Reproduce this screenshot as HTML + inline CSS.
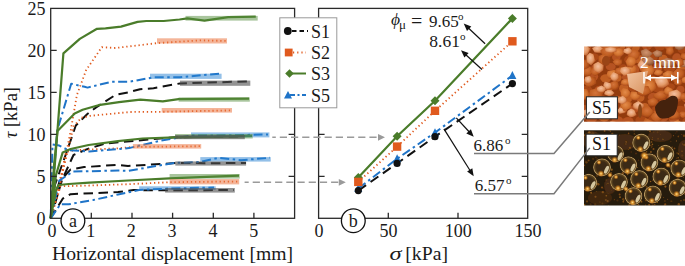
<!DOCTYPE html>
<html><head><meta charset="utf-8"><style>
html,body{margin:0;padding:0;background:#fff;width:685px;height:266px;overflow:hidden}
svg{display:block}
</style></head><body>
<svg width="685" height="266" viewBox="0 0 685 266">
<rect width="685" height="266" fill="#fff"/>
<polyline points="50.7,218.3 54.8,185.2 65.6,155.0 75.8,125.5 87.1,114.2 96.1,107.4 115.3,95.0 128.0,92.4 140.0,89.3 153.5,88.2 180.0,83.4 250.0,81.3" fill="none" stroke="#111" stroke-width="2.0" stroke-linejoin="round" stroke-dasharray="9.5 5.5"/>
<polyline points="50.7,218.3 62.0,180.0 73.5,155.0 87.1,149.2 105.2,143.5 130.0,141.3 151.5,139.1 175.2,137.2 210.0,137.0 244.0,136.5" fill="none" stroke="#111" stroke-width="2.0" stroke-linejoin="round" stroke-dasharray="9.5 5.5"/>
<polyline points="50.7,218.3 59.3,181.8 70.6,169.4 84.1,167.1 118.0,164.8 128.0,166.0 176.4,163.0 210.0,163.2 246.0,163.0" fill="none" stroke="#111" stroke-width="2.0" stroke-linejoin="round" stroke-dasharray="9.5 5.5"/>
<polyline points="50.7,218.3 62.7,198.7 70.6,194.2 118.0,192.0 133.5,190.1 170.0,190.3 234.0,190.0" fill="none" stroke="#111" stroke-width="2.0" stroke-linejoin="round" stroke-dasharray="9.5 5.5"/>
<polyline points="50.7,218.3 60.0,185.0 70.8,130.0 76.9,95.0 86.2,70.0 101.8,47.2 115.3,48.0 157.4,43.1 200.0,40.4 226.0,40.9" fill="none" stroke="#e05a1e" stroke-width="1.8" stroke-linejoin="round" stroke-dasharray="1.3 2.8" stroke-linecap="butt"/>
<polyline points="50.7,218.3 62.0,175.0 73.5,126.6 81.5,117.6 90.5,115.8 130.0,112.0 161.7,111.8 200.0,111.0 231.0,110.4" fill="none" stroke="#e05a1e" stroke-width="1.8" stroke-linejoin="round" stroke-dasharray="1.3 2.8" stroke-linecap="butt"/>
<polyline points="50.7,218.3 60.0,180.0 66.0,152.0 75.0,150.2 118.0,148.3 133.0,147.0 170.0,146.5 200.0,146.2" fill="none" stroke="#e05a1e" stroke-width="1.8" stroke-linejoin="round" stroke-dasharray="1.3 2.8" stroke-linecap="butt"/>
<polyline points="50.7,218.3 58.0,195.0 60.4,186.3 90.0,185.5 128.0,184.2 169.6,182.2 200.0,181.8 238.0,181.6" fill="none" stroke="#e05a1e" stroke-width="1.8" stroke-linejoin="round" stroke-dasharray="1.3 2.8" stroke-linecap="butt"/>
<polyline points="50.7,218.3 57.2,130.5 71.2,83.7 84.6,86.8 87.5,87.6 111.2,81.8 128.0,81.8 136.4,80.6 153.7,77.2 180.0,77.2 219.0,73.7" fill="none" stroke="#1f74c8" stroke-width="2.0" stroke-linejoin="round" stroke-dasharray="9 3.5 2.5 3.5"/>
<polyline points="50.7,218.3 52.5,144.5 59.3,145.6 68.3,150.2 89.4,151.5 118.0,149.0 129.0,148.1 160.6,140.7 191.0,135.6 230.0,135.3 268.0,134.4" fill="none" stroke="#1f74c8" stroke-width="2.0" stroke-linejoin="round" stroke-dasharray="9 3.5 2.5 3.5"/>
<polyline points="50.7,218.3 59.3,180.6 72.8,171.6 118.0,170.5 128.0,170.8 174.1,163.0 200.0,162.0 219.0,157.8 241.0,160.2 270.0,157.8" fill="none" stroke="#1f74c8" stroke-width="2.0" stroke-linejoin="round" stroke-dasharray="9 3.5 2.5 3.5"/>
<polyline points="50.7,218.3 60.4,204.3 68.7,204.3 93.2,200.0 118.0,194.5 139.0,190.0 170.0,188.5 214.0,187.5" fill="none" stroke="#1f74c8" stroke-width="2.0" stroke-linejoin="round" stroke-dasharray="9 3.5 2.5 3.5"/>
<polyline points="50.7,218.3 63.4,53.3 79.8,38.9 97.0,28.8 105.5,28.4 121.0,26.6 137.6,21.9 146.3,21.0 163.7,21.0 179.5,19.5 187.4,18.3 204.5,20.6 228.2,17.2 255.8,16.7" fill="none" stroke="#4a7c2a" stroke-width="2.2" stroke-linejoin="round" />
<polyline points="50.7,218.3 54.0,165.0 57.5,131.0 74.7,113.5 82.6,109.7 98.4,105.2 119.0,102.1 140.3,99.7 162.8,101.3 178.6,99.2 210.0,98.9 249.0,98.6" fill="none" stroke="#4a7c2a" stroke-width="2.2" stroke-linejoin="round" />
<polyline points="50.7,218.3 56.0,175.0 62.7,152.4 70.6,149.0 88.6,145.0 118.0,141.1 142.5,138.5 175.2,137.3 210.0,136.8 252.0,135.8" fill="none" stroke="#4a7c2a" stroke-width="2.2" stroke-linejoin="round" />
<polyline points="50.7,218.3 56.0,190.0 58.5,185.0 68.7,184.0 89.3,182.6 128.0,180.5 169.6,178.4 200.0,177.2 239.0,175.6" fill="none" stroke="#4a7c2a" stroke-width="2.2" stroke-linejoin="round" />
<rect x="185.5" y="15.9" width="72.2" height="4.7" fill="rgba(84,140,60,0.5)"/>
<rect x="157" y="38.3" width="70.0" height="5.2" fill="rgba(235,120,70,0.55)"/>
<rect x="150" y="73.7" width="71.6" height="5.2" fill="rgba(40,130,210,0.5)"/>
<rect x="180" y="80.6" width="70.3" height="5.2" fill="rgba(80,80,80,0.62)"/>
<rect x="178.6" y="97.4" width="71.2" height="4.3" fill="rgba(84,140,60,0.5)"/>
<rect x="161.7" y="108" width="70.3" height="4.6" fill="rgba(235,120,70,0.55)"/>
<rect x="191" y="132.4" width="78.4" height="5.0" fill="rgba(40,130,210,0.5)"/>
<rect x="175" y="134" width="77.7" height="4.5" fill="rgba(84,140,60,0.5)"/>
<rect x="175.2" y="135" width="69.6" height="4.2" fill="rgba(80,80,80,0.62)"/>
<rect x="132.9" y="144.1" width="68.3" height="4.5" fill="rgba(235,120,70,0.55)"/>
<rect x="200.3" y="157.1" width="70.4" height="4.5" fill="rgba(40,130,210,0.5)"/>
<rect x="175.3" y="161.4" width="70.8" height="4.2" fill="rgba(80,80,80,0.62)"/>
<rect x="169.6" y="174" width="70.1" height="4.6" fill="rgba(84,140,60,0.5)"/>
<rect x="169.6" y="179.1" width="69.6" height="5.3" fill="rgba(235,120,70,0.55)"/>
<rect x="139.2" y="186.3" width="76.5" height="3.7" fill="rgba(40,130,210,0.5)"/>
<rect x="165.1" y="188" width="69.7" height="4.6" fill="rgba(80,80,80,0.62)"/>
<rect x="50.7" y="8.4" width="243.9" height="209.9" fill="none" stroke="#2a2a2a" stroke-width="1.3"/>
<rect x="318.6" y="8.4" width="209.1" height="209.9" fill="none" stroke="#2a2a2a" stroke-width="1.3"/>
<path d="M50.7,176.3h6 M294.6,176.3h-6 M318.6,176.3h6 M527.7,176.3h-6 M50.7,134.3h6 M294.6,134.3h-6 M318.6,134.3h6 M527.7,134.3h-6 M50.7,92.3h6 M294.6,92.3h-6 M318.6,92.3h6 M527.7,92.3h-6 M50.7,50.3h6 M294.6,50.3h-6 M318.6,50.3h6 M527.7,50.3h-6 M91.3,218.3v-5.5 M132.0,218.3v-5.5 M172.6,218.3v-5.5 M213.3,218.3v-5.5 M253.9,218.3v-5.5 M388.3,218.3v-5.5 M458.0,218.3v-5.5" stroke="#2a2a2a" stroke-width="1.3" fill="none"/>
<text x="45.6" y="224.9" text-anchor="end" font-size="18" font-family="Liberation Serif" fill="#1a1a1a">0</text>
<text x="45.6" y="182.9" text-anchor="end" font-size="18" font-family="Liberation Serif" fill="#1a1a1a">5</text>
<text x="45.6" y="140.9" text-anchor="end" font-size="18" font-family="Liberation Serif" fill="#1a1a1a">10</text>
<text x="45.6" y="98.9" text-anchor="end" font-size="18" font-family="Liberation Serif" fill="#1a1a1a">15</text>
<text x="45.6" y="56.9" text-anchor="end" font-size="18" font-family="Liberation Serif" fill="#1a1a1a">20</text>
<text x="45.6" y="14.9" text-anchor="end" font-size="18" font-family="Liberation Serif" fill="#1a1a1a">25</text>
<text x="52.1" y="236.8" text-anchor="middle" font-size="18" font-family="Liberation Serif" fill="#1a1a1a">0</text>
<text x="90.7" y="236.8" text-anchor="middle" font-size="18" font-family="Liberation Serif" fill="#1a1a1a">1</text>
<text x="131.2" y="236.8" text-anchor="middle" font-size="18" font-family="Liberation Serif" fill="#1a1a1a">2</text>
<text x="172.1" y="236.8" text-anchor="middle" font-size="18" font-family="Liberation Serif" fill="#1a1a1a">3</text>
<text x="212.9" y="236.8" text-anchor="middle" font-size="18" font-family="Liberation Serif" fill="#1a1a1a">4</text>
<text x="253.7" y="236.8" text-anchor="middle" font-size="18" font-family="Liberation Serif" fill="#1a1a1a">5</text>
<text x="318.9" y="236.9" text-anchor="middle" font-size="18" font-family="Liberation Serif" fill="#1a1a1a">0</text>
<text x="388.6" y="236.9" text-anchor="middle" font-size="18" font-family="Liberation Serif" fill="#1a1a1a">50</text>
<text x="458.3" y="236.9" text-anchor="middle" font-size="18" font-family="Liberation Serif" fill="#1a1a1a">100</text>
<text x="528.0" y="236.9" text-anchor="middle" font-size="18" font-family="Liberation Serif" fill="#1a1a1a">150</text>
<text x="52" y="260" font-size="19.65" font-family="Liberation Serif" fill="#1a1a1a">Horizontal displacement [mm]</text>
<text transform="translate(389.6,260) scale(1.25,1)" font-size="19.5" font-style="italic" font-family="Liberation Serif" fill="#1a1a1a">σ</text>
<text x="405.3" y="260" font-size="19.7" font-family="Liberation Serif" fill="#1a1a1a">[kPa]</text>
<text transform="translate(16.6,138.3) rotate(-90)" font-size="18.5" font-family="Liberation Serif" fill="#1a1a1a"><tspan font-style="italic">τ</tspan> [kPa]</text>
<circle cx="72.9" cy="220.7" r="11.9" fill="#fff" stroke="#111" stroke-width="1.3"/>
<text x="72.9" y="227" text-anchor="middle" font-size="18" font-family="Liberation Serif" fill="#1a1a1a">a</text>
<circle cx="353.3" cy="220.7" r="11.9" fill="#fff" stroke="#111" stroke-width="1.3"/>
<text x="353.3" y="227.4" text-anchor="middle" font-size="18" font-family="Liberation Serif" fill="#1a1a1a">b</text>
<polyline points="358.3,190.6 397.1,163.4 435.0,136.7 512.4,83.6" fill="none" stroke="#111" stroke-width="2.0" stroke-dasharray="9.5 5.5"/>
<polyline points="358.3,181.9 397.1,146.6 435.0,110.8 512.4,41.3" fill="none" stroke="#e05a1e" stroke-width="1.8" stroke-dasharray="1.3 2.8" stroke-linecap="butt"/>
<polyline points="358.3,177.4 397.1,136.3 435.0,100.7 512.4,18.4" fill="none" stroke="#4a7c2a" stroke-width="2.2" />
<polyline points="358.3,188.5 397.1,158.7 435.0,132.6 512.4,75.5" fill="none" stroke="#1f74c8" stroke-width="2.0" stroke-dasharray="9 3.5 2.5 3.5"/>
<path d="M358.3,184.1l4,8l-8,0z" fill="#1f74c8"/>
<path d="M397.1,154.3l4,8l-8,0z" fill="#1f74c8"/>
<path d="M435.0,128.2l4,8l-8,0z" fill="#1f74c8"/>
<path d="M512.4,71.1l4,8l-8,0z" fill="#1f74c8"/>
<path d="M358.3,172.9l4.5,4.5l-4.5,4.5l-4.5,-4.5z" fill="#4a7c2a"/>
<path d="M397.1,131.8l4.5,4.5l-4.5,4.5l-4.5,-4.5z" fill="#4a7c2a"/>
<path d="M435.0,96.2l4.5,4.5l-4.5,4.5l-4.5,-4.5z" fill="#4a7c2a"/>
<path d="M512.4,13.9l4.5,4.5l-4.5,4.5l-4.5,-4.5z" fill="#4a7c2a"/>
<rect x="354.1" y="177.7" width="8.4" height="8.4" fill="#e05a1e"/>
<rect x="392.9" y="142.4" width="8.4" height="8.4" fill="#e05a1e"/>
<rect x="430.8" y="106.6" width="8.4" height="8.4" fill="#e05a1e"/>
<rect x="508.2" y="37.1" width="8.4" height="8.4" fill="#e05a1e"/>
<circle cx="358.3" cy="190.6" r="3.6" fill="#111"/>
<circle cx="397.1" cy="163.4" r="3.6" fill="#111"/>
<circle cx="435.0" cy="136.7" r="3.6" fill="#111"/>
<circle cx="512.4" cy="83.6" r="3.6" fill="#111"/>
<path d="M376.6,137.3H272.3 M338.3,182.3H244.6" stroke="#9a9a9a" stroke-width="1.4" stroke-dasharray="7.2 4" fill="none"/>
<path d="M385,137.3l-7,-3.4v6.8z M345.8,182.3l-7,-3.4v6.8z" fill="#9a9a9a"/>
<path d="M485.1,43.8L468.4,28.0" stroke="#111" stroke-width="1.2"/><path d="M463.7,23.5L471.3,26.4L467.0,30.9z" fill="#111"/>
<path d="M482.0,69.5L465.8,54.7" stroke="#111" stroke-width="1.2"/><path d="M461.0,50.3L468.6,53.1L464.4,57.6z" fill="#111"/>
<path d="M456.3,117.9L469.3,132.0" stroke="#111" stroke-width="1.2"/><path d="M473.7,136.8L466.3,133.4L470.9,129.2z" fill="#111"/>
<path d="M443.9,128.9L470.2,170.8" stroke="#111" stroke-width="1.2"/><path d="M473.7,176.3L467.1,171.6L472.3,168.3z" fill="#111"/>
<text x="391" y="25" font-size="17.5" font-style="italic" font-family="Liberation Serif" fill="#1a1a1a">ϕ</text>
<text x="399" y="28.8" font-size="13" font-family="Liberation Serif" fill="#1a1a1a">μ</text>
<text x="411" y="28.3" font-size="20" font-family="Liberation Serif" fill="#1a1a1a">=</text>
<text x="429" y="27.4" font-size="17" font-family="Liberation Serif" fill="#1a1a1a">9.65</text><text x="458" y="20" font-size="11" font-family="Liberation Serif" fill="#1a1a1a">o</text>
<text x="429.3" y="46.6" font-size="17.5" font-family="Liberation Serif" fill="#1a1a1a">8.61</text><text x="460" y="39.5" font-size="11" font-family="Liberation Serif" fill="#1a1a1a">o</text>
<text x="473.5" y="151" font-size="17" font-family="Liberation Serif" fill="#1a1a1a">6.86</text><text x="505" y="144" font-size="11" font-family="Liberation Serif" fill="#1a1a1a">o</text>
<text x="474.7" y="190.5" font-size="17" font-family="Liberation Serif" fill="#1a1a1a">6.57</text><text x="506" y="183.5" font-size="11" font-family="Liberation Serif" fill="#1a1a1a">o</text>
<rect x="279.8" y="17.8" width="57" height="90" fill="#fff" stroke="#999" stroke-width="1"/>
<path d="M292,31H308" stroke="#111" stroke-width="2" stroke-dasharray="4.5 3"/>
<circle cx="287.8" cy="31" r="3.9" fill="#111"/>
<path d="M293,52.5H306" stroke="#e05a1e" stroke-width="1.8" stroke-dasharray="1.2 3"/>
<rect x="284.8" y="48.6" width="7.8" height="7.8" fill="#e05a1e"/>
<path d="M289,73.5H306" stroke="#4a7c2a" stroke-width="2"/>
<path d="M289.5,69.2l4.3,4.3l-4.3,4.3l-4.3,-4.3z" fill="#4a7c2a"/>
<path d="M290,95H306" stroke="#1f74c8" stroke-width="2" stroke-dasharray="5 2.5 2 2.5"/>
<path d="M288,91l4,7.5h-8z" fill="#1f74c8"/>
<text x="311" y="37.5" font-size="18" font-family="Liberation Serif" fill="#1a1a1a">S1</text>
<text x="311" y="59.0" font-size="18" font-family="Liberation Serif" fill="#1a1a1a">S2</text>
<text x="311" y="80.0" font-size="18" font-family="Liberation Serif" fill="#1a1a1a">S3</text>
<text x="311" y="101.5" font-size="18" font-family="Liberation Serif" fill="#1a1a1a">S5</text>
<defs><clipPath id="cs"><rect x="584" y="46.5" width="101" height="75.3"/></clipPath><clipPath id="cb"><rect x="584" y="130.3" width="101" height="75.2"/></clipPath><radialGradient id="bead" cx="0.5" cy="0.5" r="0.5"><stop offset="0" stop-color="#3a2a14"/><stop offset="0.6" stop-color="#3c2a12"/><stop offset="0.82" stop-color="#5c4420"/><stop offset="0.93" stop-color="#b89860"/><stop offset="1" stop-color="#5a4420"/></radialGradient><radialGradient id="glow" cx="0.5" cy="0.5" r="0.5"><stop offset="0" stop-color="#ffe090" stop-opacity="1"/><stop offset="0.4" stop-color="#f0a030" stop-opacity="0.85"/><stop offset="1" stop-color="#a05010" stop-opacity="0"/></radialGradient><filter id="bl" x="-10%" y="-10%" width="120%" height="120%"><feGaussianBlur stdDeviation="0.7"/></filter><filter id="bl2" x="-10%" y="-10%" width="120%" height="120%"><feGaussianBlur stdDeviation="0.5"/></filter></defs>
<defs><radialGradient id="g1" cx="0.45" cy="0.4" r="0.6"><stop offset="0" stop-color="#f4c0a0"/><stop offset="0.6" stop-color="#e49a68"/><stop offset="1" stop-color="#bc5e2c"/></radialGradient><radialGradient id="g2" cx="0.45" cy="0.4" r="0.6"><stop offset="0" stop-color="#e48c4a"/><stop offset="0.6" stop-color="#d0702e"/><stop offset="1" stop-color="#ac4c1a"/></radialGradient><radialGradient id="g3" cx="0.45" cy="0.4" r="0.6"><stop offset="0" stop-color="#d4743a"/><stop offset="0.6" stop-color="#c05e22"/><stop offset="1" stop-color="#9c4012"/></radialGradient><radialGradient id="g4" cx="0.45" cy="0.4" r="0.6"><stop offset="0" stop-color="#d09470"/><stop offset="0.6" stop-color="#b47650"/><stop offset="1" stop-color="#8e5430"/></radialGradient></defs>
<g clip-path="url(#cs)"><g filter="url(#bl)"><rect x="581" y="43.5" width="107" height="81.3" fill="#923a10"/>
<ellipse cx="585.4" cy="48.3" rx="5.8" ry="4.8" fill="#aa4816"/>
<ellipse cx="599.8" cy="45.7" rx="5.0" ry="3.5" fill="#c05e24"/>
<ellipse cx="609.5" cy="47.9" rx="5.2" ry="3.6" fill="#c05e24"/>
<ellipse cx="620.5" cy="46.6" rx="4.8" ry="4.0" fill="#c05e24"/>
<ellipse cx="634.8" cy="47.4" rx="4.9" ry="4.3" fill="#c05e24"/>
<ellipse cx="647.0" cy="45.7" rx="5.2" ry="4.2" fill="#b65220"/>
<ellipse cx="659.8" cy="46.0" rx="5.6" ry="4.5" fill="#aa4816"/>
<ellipse cx="669.0" cy="45.6" rx="4.6" ry="4.5" fill="#b65220"/>
<ellipse cx="682.1" cy="48.6" rx="4.7" ry="4.9" fill="#aa4816"/>
<ellipse cx="593.6" cy="57.0" rx="5.3" ry="3.8" fill="#aa4816"/>
<ellipse cx="605.2" cy="58.8" rx="4.4" ry="3.8" fill="#b65220"/>
<ellipse cx="616.3" cy="57.0" rx="4.3" ry="4.2" fill="#b65220"/>
<ellipse cx="628.8" cy="59.5" rx="4.6" ry="3.8" fill="#aa4816"/>
<ellipse cx="639.9" cy="59.4" rx="5.7" ry="4.1" fill="#c05e24"/>
<ellipse cx="652.0" cy="57.0" rx="5.7" ry="5.0" fill="#aa4816"/>
<ellipse cx="663.3" cy="59.1" rx="4.6" ry="4.4" fill="#c05e24"/>
<ellipse cx="676.8" cy="58.0" rx="4.6" ry="4.7" fill="#b65220"/>
<ellipse cx="688.6" cy="57.4" rx="4.4" ry="4.7" fill="#aa4816"/>
<ellipse cx="584.9" cy="66.5" rx="4.1" ry="4.4" fill="#aa4816"/>
<ellipse cx="596.4" cy="68.1" rx="5.3" ry="4.1" fill="#b65220"/>
<ellipse cx="610.7" cy="66.7" rx="5.0" ry="3.8" fill="#b65220"/>
<ellipse cx="623.0" cy="68.1" rx="4.1" ry="3.8" fill="#aa4816"/>
<ellipse cx="634.2" cy="69.7" rx="5.0" ry="5.0" fill="#b65220"/>
<ellipse cx="645.6" cy="69.1" rx="5.8" ry="3.6" fill="#c05e24"/>
<ellipse cx="657.6" cy="67.7" rx="4.4" ry="4.8" fill="#b65220"/>
<ellipse cx="669.5" cy="68.2" rx="5.8" ry="4.7" fill="#aa4816"/>
<ellipse cx="681.9" cy="68.5" rx="4.4" ry="4.6" fill="#c05e24"/>
<ellipse cx="593.7" cy="76.6" rx="4.5" ry="4.1" fill="#b65220"/>
<ellipse cx="605.9" cy="78.3" rx="5.6" ry="4.0" fill="#c05e24"/>
<ellipse cx="617.4" cy="77.5" rx="4.2" ry="4.2" fill="#c05e24"/>
<ellipse cx="627.7" cy="77.2" rx="5.8" ry="3.8" fill="#b65220"/>
<ellipse cx="639.7" cy="76.3" rx="5.1" ry="4.5" fill="#b65220"/>
<ellipse cx="651.9" cy="80.1" rx="5.8" ry="4.3" fill="#c05e24"/>
<ellipse cx="664.8" cy="79.9" rx="5.0" ry="4.9" fill="#b65220"/>
<ellipse cx="677.0" cy="77.9" rx="5.1" ry="4.7" fill="#c05e24"/>
<ellipse cx="688.6" cy="78.2" rx="5.7" ry="4.3" fill="#aa4816"/>
<ellipse cx="586.7" cy="90.2" rx="5.7" ry="4.4" fill="#aa4816"/>
<ellipse cx="599.4" cy="90.2" rx="5.0" ry="4.4" fill="#b65220"/>
<ellipse cx="609.6" cy="86.8" rx="4.0" ry="4.1" fill="#c05e24"/>
<ellipse cx="623.9" cy="88.4" rx="4.8" ry="4.7" fill="#c05e24"/>
<ellipse cx="632.5" cy="86.7" rx="4.3" ry="4.9" fill="#aa4816"/>
<ellipse cx="645.7" cy="90.2" rx="5.8" ry="3.9" fill="#aa4816"/>
<ellipse cx="658.0" cy="87.7" rx="5.8" ry="4.9" fill="#aa4816"/>
<ellipse cx="670.1" cy="86.8" rx="4.8" ry="3.5" fill="#aa4816"/>
<ellipse cx="680.5" cy="89.5" rx="4.0" ry="3.8" fill="#b65220"/>
<ellipse cx="590.0" cy="97.7" rx="5.4" ry="3.9" fill="#aa4816"/>
<ellipse cx="602.4" cy="99.5" rx="4.2" ry="4.3" fill="#aa4816"/>
<ellipse cx="616.9" cy="99.3" rx="5.8" ry="3.5" fill="#c05e24"/>
<ellipse cx="627.7" cy="98.7" rx="4.3" ry="3.8" fill="#c05e24"/>
<ellipse cx="640.1" cy="97.4" rx="4.4" ry="4.3" fill="#c05e24"/>
<ellipse cx="653.4" cy="97.5" rx="5.5" ry="4.7" fill="#b65220"/>
<ellipse cx="663.3" cy="97.8" rx="5.8" ry="3.8" fill="#b65220"/>
<ellipse cx="677.6" cy="97.1" rx="4.5" ry="4.6" fill="#aa4816"/>
<ellipse cx="687.6" cy="98.3" rx="5.9" ry="4.3" fill="#c05e24"/>
<ellipse cx="584.5" cy="108.4" rx="5.4" ry="3.5" fill="#b65220"/>
<ellipse cx="598.3" cy="108.2" rx="5.6" ry="4.0" fill="#c05e24"/>
<ellipse cx="610.0" cy="109.8" rx="5.0" ry="4.5" fill="#b65220"/>
<ellipse cx="623.2" cy="108.7" rx="4.0" ry="4.6" fill="#c05e24"/>
<ellipse cx="634.1" cy="109.0" rx="4.3" ry="3.8" fill="#b65220"/>
<ellipse cx="644.7" cy="107.4" rx="4.6" ry="4.5" fill="#c05e24"/>
<ellipse cx="656.2" cy="110.5" rx="4.9" ry="4.6" fill="#aa4816"/>
<ellipse cx="669.6" cy="108.4" rx="4.7" ry="3.8" fill="#aa4816"/>
<ellipse cx="680.1" cy="109.5" rx="5.7" ry="3.8" fill="#aa4816"/>
<ellipse cx="591.4" cy="118.4" rx="5.8" ry="4.4" fill="#b65220"/>
<ellipse cx="604.1" cy="117.0" rx="5.8" ry="4.7" fill="#c05e24"/>
<ellipse cx="617.5" cy="120.6" rx="5.9" ry="4.4" fill="#b65220"/>
<ellipse cx="628.0" cy="120.9" rx="5.6" ry="3.9" fill="#b65220"/>
<ellipse cx="641.0" cy="120.1" rx="5.6" ry="4.1" fill="#aa4816"/>
<ellipse cx="653.5" cy="119.7" rx="5.5" ry="4.6" fill="#aa4816"/>
<ellipse cx="662.8" cy="117.7" rx="5.6" ry="4.0" fill="#b65220"/>
<ellipse cx="674.0" cy="118.4" rx="5.3" ry="4.4" fill="#b65220"/>
<ellipse cx="687.1" cy="120.8" rx="4.6" ry="3.8" fill="#aa4816"/>
<polygon points="673.9,84.3 675.3,78.4 680.4,78.0 682.5,83.5 679.5,86.0" fill="url(#g3)"/>
<polygon points="615.7,121.7 618.3,126.7 611.8,130.0 606.7,126.6 610.6,121.3" fill="url(#g1)"/>
<polygon points="636.8,45.2 632.7,42.7 634.0,37.8 640.3,37.7 641.6,42.4" fill="url(#g3)"/>
<polygon points="668.9,36.1 670.5,41.0 667.9,43.7 663.7,43.3 660.0,39.3 662.2,35.6 666.0,34.8" fill="url(#g1)"/>
<polygon points="694.2,131.2 688.1,132.4 684.9,129.9 685.5,125.5 687.4,121.7 693.2,123.1 696.1,127.4" fill="url(#g3)"/>
<polygon points="681.1,117.2 678.4,114.1 681.1,111.5 685.2,111.6 687.9,112.6 687.8,115.6 683.5,118.4" fill="url(#g3)"/>
<polygon points="627.8,130.2 623.2,128.2 624.6,121.6 629.6,121.1 632.8,127.4" fill="url(#g2)"/>
<polygon points="598.3,101.9 599.5,105.1 597.6,107.8 591.7,107.7 589.4,104.6 589.8,102.3 595.6,100.8" fill="url(#g2)"/>
<polygon points="582.5,121.3 579.1,124.1 575.3,123.9 573.3,121.4 574.0,119.0 577.0,117.3 581.2,118.3" fill="url(#g2)"/>
<polygon points="642.8,89.4 638.6,89.3 636.8,83.6 638.9,79.6 644.8,78.6 648.2,81.7 647.9,87.5" fill="url(#g2)"/>
<polygon points="685.0,69.5 684.5,78.4 678.2,79.9 671.5,73.7 676.8,68.7" fill="url(#g3)"/>
<polygon points="612.5,61.5 615.9,59.0 622.4,59.4 621.9,63.2 619.8,66.3 615.2,65.1" fill="url(#g3)"/>
<polygon points="635.7,100.5 631.4,99.5 629.5,94.8 631.5,91.2 636.2,91.7 640.8,95.4 639.5,98.5" fill="url(#g2)"/>
<polygon points="666.0,75.9 669.3,84.3 663.6,88.0 658.1,87.6 654.4,79.1 661.0,75.8" fill="url(#g1)"/>
<polygon points="582.8,110.4 588.5,108.7 592.6,111.0 591.3,114.4 587.0,116.6 582.1,114.9" fill="url(#g1)"/>
<polygon points="596.5,83.4 588.5,87.8 582.2,82.1 586.2,76.5 595.6,77.3" fill="url(#g3)"/>
<polygon points="581.9,47.1 576.8,45.9 575.2,42.7 578.3,38.7 583.0,39.6 584.3,43.2" fill="url(#g2)"/>
<polygon points="681.5,53.1 688.4,53.4 690.8,58.7 686.2,60.4 680.3,57.7" fill="url(#g3)"/>
<polygon points="682.4,123.1 681.7,128.6 676.9,130.7 671.6,127.3 673.3,121.9 677.9,119.7" fill="url(#g2)"/>
<polygon points="603.0,97.2 605.3,97.9 607.6,100.3 606.3,103.2 601.6,104.2 598.9,102.7 598.8,98.8" fill="url(#g2)"/>
<polygon points="684.5,42.7 685.3,48.1 679.2,50.3 675.2,48.6 674.4,43.2 678.7,41.1" fill="url(#g4)"/>
<polygon points="587.3,57.8 592.3,57.2 596.4,60.5 590.7,65.0 585.4,62.9" fill="url(#g3)"/>
<polygon points="584.5,124.5 591.2,123.9 593.1,128.3 589.4,130.3 584.3,127.7" fill="url(#g1)"/>
<polygon points="653.2,95.0 659.6,91.0 663.5,90.2 667.8,93.6 666.9,99.2 660.9,100.3 654.2,98.7" fill="url(#g3)"/>
<polygon points="589.9,76.6 583.9,76.3 582.0,71.3 586.6,66.8 590.5,66.4 593.5,71.0" fill="url(#g3)"/>
<polygon points="594.6,52.4 592.0,47.9 598.5,45.2 603.1,48.1 603.2,53.2" fill="url(#g1)"/>
<polygon points="651.5,79.7 655.4,84.0 656.3,88.3 650.6,93.3 645.8,92.4 642.5,86.6 642.5,83.3" fill="url(#g2)"/>
<polygon points="575.7,67.9 574.5,64.4 577.4,59.4 586.2,59.7 589.4,61.1 588.6,67.7 581.5,70.7" fill="url(#g3)"/>
<polygon points="615.7,49.1 614.7,54.6 607.5,58.4 602.6,56.4 600.4,50.6 606.5,45.5 610.1,45.0" fill="url(#g3)"/>
<polygon points="607.8,109.5 609.0,104.0 615.4,103.3 617.5,107.6 612.3,111.9" fill="url(#g2)"/>
<polygon points="648.0,132.0 642.1,125.1 645.2,117.7 654.8,122.0 654.0,128.2" fill="url(#g3)"/>
<polygon points="641.3,86.3 648.2,85.9 651.7,92.5 642.8,96.4 636.8,94.0" fill="url(#g3)"/>
<polygon points="667.0,130.8 663.2,130.3 660.7,126.6 662.1,124.8 667.3,123.2 669.6,124.5 671.2,127.5" fill="url(#g1)"/>
<polygon points="610.5,130.1 606.9,132.9 602.1,133.0 600.3,128.0 602.9,123.3 607.3,122.7 611.2,126.0" fill="url(#g1)"/>
<polygon points="609.2,48.1 607.2,41.0 610.6,35.6 616.6,36.1 621.3,41.8 620.4,47.3 615.5,50.0" fill="url(#g2)"/>
<polygon points="663.6,93.7 664.5,89.0 667.4,86.4 671.4,88.4 674.0,90.8 671.9,94.2 666.2,95.1" fill="url(#g2)"/>
<polygon points="606.4,75.7 607.6,71.3 614.7,69.8 618.6,73.4 618.9,76.1 616.0,79.2 609.1,78.9" fill="url(#g2)"/>
<polygon points="633.9,127.9 635.2,123.8 640.1,123.1 643.2,125.1 643.6,130.2 638.8,131.7 634.9,131.0" fill="url(#g2)"/>
<polygon points="626.7,115.0 627.5,111.1 631.0,108.6 634.2,109.9 636.6,115.0 633.4,116.8 630.4,117.4" fill="url(#g1)"/>
<polygon points="690.9,83.5 687.1,83.8 681.2,82.4 682.4,77.8 687.9,75.9 691.0,79.3" fill="url(#g2)"/>
<polygon points="579.4,53.6 578.3,46.4 583.9,43.4 590.1,48.5 587.2,56.1" fill="url(#g1)"/>
<polygon points="644.4,70.3 639.9,68.9 637.3,65.0 640.8,59.7 647.8,62.2 648.8,66.1" fill="url(#g1)"/>
<polygon points="679.9,119.0 669.9,119.8 666.5,115.0 667.4,110.8 676.1,110.3 680.5,114.3" fill="url(#g3)"/>
<polygon points="621.6,80.6 624.6,78.9 629.5,79.6 630.3,83.3 628.9,85.2 623.7,85.6 620.7,84.0" fill="url(#g2)"/>
<polygon points="572.8,85.7 573.1,81.9 576.4,77.9 580.6,80.1 582.1,84.6 578.9,86.5" fill="url(#g1)"/>
<polygon points="607.5,118.0 602.3,116.6 600.3,110.3 605.4,107.1 611.8,108.6 613.5,113.9" fill="url(#g1)"/>
<polygon points="628.6,39.9 633.7,43.7 631.6,49.7 626.7,49.9 624.6,42.4" fill="url(#g3)"/>
<polygon points="614.2,90.3 609.8,88.1 609.0,83.6 615.0,80.6 618.1,82.3 619.1,87.2 617.0,90.1" fill="url(#g3)"/>
<polygon points="681.8,60.3 687.0,59.7 689.1,63.5 685.8,67.4 680.4,66.2" fill="url(#g4)"/>
<polygon points="606.5,89.8 603.2,85.3 604.7,81.6 610.6,83.3 611.9,87.9" fill="url(#g1)"/>
<polygon points="636.9,110.1 633.2,107.9 633.1,104.1 638.3,100.9 644.1,104.7 643.5,108.4" fill="url(#g1)"/>
<polygon points="669.4,79.6 664.0,77.8 662.4,73.8 667.9,70.4 673.5,71.5 673.0,76.6" fill="url(#g2)"/>
<polygon points="637.2,72.5 631.7,75.0 625.8,72.9 623.8,68.5 631.1,64.0 636.5,66.7" fill="url(#g2)"/>
<polygon points="666.9,57.9 672.8,59.1 673.8,63.5 669.6,68.1 665.3,67.2 660.6,64.8 661.0,59.9" fill="url(#g4)"/>
<polygon points="619.9,107.2 625.7,109.9 625.0,112.6 619.6,114.1 617.0,110.8" fill="url(#g1)"/>
<polygon points="645.4,76.9 641.8,73.8 641.4,68.1 645.6,66.3 651.6,65.1 654.8,70.1 653.0,74.2" fill="url(#g2)"/>
<polygon points="654.7,71.7 656.6,69.4 661.0,70.3 663.2,71.7 660.6,75.2 657.9,75.8 653.4,74.0" fill="url(#g2)"/>
<polygon points="598.3,63.6 598.4,55.9 604.4,54.0 608.9,61.6 604.1,65.6" fill="url(#g3)"/>
<polygon points="582.1,102.5 584.5,107.6 579.0,113.2 572.3,107.3 573.5,101.2" fill="url(#g2)"/>
<polygon points="672.1,46.3 674.2,51.9 670.4,55.8 665.7,53.6 666.6,48.3" fill="url(#g3)"/>
<polygon points="623.7,111.3 620.2,104.0 624.8,100.5 632.0,102.8 630.6,108.3" fill="url(#g2)"/>
<polygon points="656.9,50.1 662.4,52.1 662.0,56.5 655.6,57.3 652.5,52.4" fill="url(#g4)"/>
<polygon points="685.3,109.7 684.1,104.7 687.2,101.3 692.1,103.5 692.3,110.2" fill="url(#g1)"/>
<polygon points="596.6,37.6 599.6,42.5 597.0,46.3 590.9,45.8 589.3,39.9" fill="url(#g1)"/>
<polygon points="587.2,89.0 589.5,95.1 583.4,100.7 577.5,96.2 578.9,89.0" fill="url(#g2)"/>
<polygon points="654.8,62.0 651.4,65.2 645.6,64.4 641.8,60.2 645.5,57.3 648.2,55.2 653.5,59.1" fill="url(#g4)"/>
<polygon points="644.8,43.9 648.7,39.9 653.8,41.9 653.0,47.0 647.3,48.4" fill="url(#g3)"/>
<polygon points="665.4,101.1 666.3,107.1 661.9,110.1 658.3,108.6 655.5,102.9 659.6,101.5" fill="url(#g2)"/>
<polygon points="620.9,95.6 620.6,91.3 622.6,87.8 627.8,89.2 630.7,92.5 630.2,95.4 625.9,99.0" fill="url(#g2)"/>
<polygon points="685.9,100.4 681.7,100.0 678.7,97.2 680.7,93.6 683.4,93.1 688.3,94.0 688.5,99.1" fill="url(#g3)"/>
<polygon points="615.8,68.4 622.2,67.1 624.7,71.9 620.6,75.5 614.4,73.8" fill="url(#g3)"/>
<polygon points="592.3,67.7 599.0,69.0 600.1,73.0 594.8,76.3 590.2,71.6" fill="url(#g3)"/>
<polygon points="613.3,49.0 618.5,48.2 623.5,48.6 624.0,53.9 620.9,56.7 616.4,57.2 613.8,54.1" fill="url(#g2)"/>
<polygon points="631.4,61.0 627.7,55.7 629.5,51.1 635.0,49.0 640.5,53.1 638.5,58.4 634.5,61.3" fill="url(#g3)"/>
<polygon points="609.2,45.5 602.0,47.8 598.5,44.4 600.2,38.2 607.0,38.9" fill="url(#g2)"/>
<polygon points="659.8,111.1 663.1,115.1 662.9,118.3 659.1,123.2 652.8,120.1 650.5,116.9 654.1,110.5" fill="url(#g3)"/>
<polygon points="604.9,91.6 607.5,90.1 611.4,90.1 614.6,92.9 611.8,95.6 609.2,96.2 604.1,94.3" fill="url(#g1)"/>
<polygon points="653.0,53.6 648.7,57.3 642.5,58.4 640.7,50.8 645.9,48.5" fill="url(#g4)"/>
<polygon points="675.0,61.8 677.5,58.6 683.2,59.3 683.8,64.8 678.7,67.3" fill="url(#g3)"/>
<polygon points="647.4,100.5 654.0,97.6 658.4,100.9 655.6,106.5 648.8,106.2" fill="url(#g3)"/>
<polygon points="677.0,103.0 675.1,105.2 670.7,105.2 668.0,102.6 670.4,99.3 673.6,97.2 676.5,99.0" fill="url(#g2)"/>
<polygon points="603.5,91.6 601.6,97.5 595.4,101.3 588.5,96.5 590.3,90.0 599.8,87.4" fill="url(#g3)"/>
<polygon points="684.0,47.6 684.1,40.7 687.8,37.9 695.0,40.9 695.8,44.4 691.1,48.3" fill="url(#g3)"/>
<polygon points="597.5,108.1 601.6,107.2 607.2,110.8 604.0,116.2 600.0,116.5 594.5,112.8" fill="url(#g3)"/>
<polygon points="628.9,56.6 634.8,57.7 636.6,62.1 632.5,67.4 627.4,66.9 625.6,61.5" fill="url(#g2)"/>
<polygon points="640.6,115.8 642.0,108.0 648.9,105.9 654.4,112.5 648.2,117.6" fill="url(#g3)"/>
<polygon points="586.8,62.3 586.4,56.3 589.7,52.7 593.6,54.6 595.0,60.8 591.2,65.3" fill="url(#g1)"/>
<polygon points="593.4,64.3 598.1,61.7 603.7,65.3 603.2,70.2 599.3,73.3 593.4,70.2" fill="url(#g1)"/>
<polygon points="616.6,51.5 611.2,53.0 605.4,51.7 605.0,48.2 610.1,47.0 616.1,47.8" fill="url(#g1)"/>
<polygon points="631.9,53.0 627.9,54.6 623.1,52.3 623.9,49.3 629.1,47.5 631.8,50.1" fill="url(#g1)"/>
<polygon points="625.9,66.6 630.7,69.6 630.2,73.8 624.0,76.0 619.8,71.7 620.8,67.7" fill="url(#g1)"/>
<polygon points="613.3,72.1 618.3,74.3 618.9,77.9 615.5,81.4 611.6,80.2 610.0,76.2" fill="url(#g1)"/>
<polygon points="674.6,100.4 668.3,97.3 668.8,91.9 676.9,89.4 681.5,92.9 680.4,98.7" fill="url(#g1)"/>
<polygon points="626.2,98.4 626.9,101.6 622.2,104.5 618.2,102.4 617.6,97.9 622.9,95.8" fill="url(#g1)"/>
<polygon points="596.8,87.8 601.3,85.5 605.4,87.3 606.0,90.0 602.3,92.7 597.3,92.0" fill="url(#g1)"/>
<polygon points="586.3,83.7 584.6,80.4 585.1,76.9 590.1,75.8 592.0,80.0 590.1,83.4" fill="url(#g1)"/>
<linearGradient id="tg" x1="0" y1="0" x2="1" y2="1"><stop offset="0" stop-color="#f2c4a0"/><stop offset="1" stop-color="#d8925e"/></linearGradient><path d="M627,74 L648,71 L643,94 L629,87 Z" fill="url(#tg)"/>
<path d="M655,107 Q659,99 665,100 L671,96 Q677,95 678,100 Q678,109 674,115 Q667,120 660,118 Q655,114 655,107 Z" fill="#44200e"/>
<ellipse cx="640" cy="111" rx="2" ry="7" fill="#8a4418"/><ellipse cx="606" cy="61" rx="4" ry="5" fill="#9a4416"/>
</g></g>
<text x="640" y="67.9" font-family="Liberation Serif" font-size="17.6" fill="#fff">2 mm</text>
<path d="M644,72v11.5M677.8,72v11.5M645,77.8H677" stroke="#fff" stroke-width="1.5"/><path d="M645,77.8l6,-3.3v6.6z M677,77.8l-6,-3.3v6.6z" fill="#fff"/>
<g clip-path="url(#cb)"><g filter="url(#bl2)"><rect x="580" y="126" width="110" height="84" fill="#281a0c"/>
<circle cx="637.2" cy="144.0" r="0.8" fill="#4a2e10"/>
<circle cx="645.9" cy="200.3" r="1.1" fill="#6a4010"/>
<circle cx="626.1" cy="166.9" r="0.5" fill="#8a5a1a"/>
<circle cx="587.0" cy="201.4" r="1.1" fill="#6a4010"/>
<circle cx="597.6" cy="152.8" r="0.7" fill="#4a2e10"/>
<circle cx="678.8" cy="204.2" r="1.2" fill="#7a4a14"/>
<circle cx="670.7" cy="201.1" r="0.4" fill="#8a5a1a"/>
<circle cx="664.3" cy="205.7" r="0.9" fill="#4a2e10"/>
<circle cx="678.3" cy="136.6" r="0.8" fill="#6a4010"/>
<circle cx="595.0" cy="152.6" r="0.6" fill="#6a4010"/>
<circle cx="625.8" cy="141.3" r="0.5" fill="#6a4010"/>
<circle cx="584.1" cy="135.2" r="1.0" fill="#8a5a1a"/>
<circle cx="668.2" cy="161.0" r="0.7" fill="#4a2e10"/>
<circle cx="623.6" cy="198.3" r="0.6" fill="#6a4010"/>
<circle cx="643.1" cy="170.0" r="0.7" fill="#4a2e10"/>
<circle cx="629.9" cy="147.8" r="1.1" fill="#7a4a14"/>
<circle cx="604.3" cy="146.1" r="0.8" fill="#7a4a14"/>
<circle cx="663.1" cy="155.3" r="0.6" fill="#4a2e10"/>
<circle cx="644.1" cy="173.6" r="0.9" fill="#6a4010"/>
<circle cx="602.6" cy="147.6" r="0.6" fill="#4a2e10"/>
<circle cx="658.7" cy="145.5" r="0.4" fill="#7a4a14"/>
<circle cx="638.5" cy="136.0" r="1.0" fill="#7a4a14"/>
<circle cx="628.6" cy="133.4" r="0.8" fill="#7a4a14"/>
<circle cx="621.4" cy="157.1" r="1.1" fill="#8a5a1a"/>
<circle cx="685.0" cy="161.9" r="0.9" fill="#7a4a14"/>
<circle cx="618.2" cy="190.1" r="0.7" fill="#4a2e10"/>
<circle cx="640.8" cy="201.7" r="0.5" fill="#6a4010"/>
<circle cx="589.3" cy="132.5" r="1.2" fill="#8a5a1a"/>
<circle cx="676.4" cy="140.9" r="0.6" fill="#8a5a1a"/>
<circle cx="681.0" cy="200.8" r="0.7" fill="#7a4a14"/>
<circle cx="598.3" cy="184.3" r="1.2" fill="#7a4a14"/>
<circle cx="608.0" cy="183.3" r="0.6" fill="#8a5a1a"/>
<circle cx="621.1" cy="185.2" r="1.1" fill="#7a4a14"/>
<circle cx="678.8" cy="135.4" r="0.5" fill="#4a2e10"/>
<circle cx="652.3" cy="139.4" r="0.7" fill="#6a4010"/>
<circle cx="611.7" cy="169.7" r="1.1" fill="#8a5a1a"/>
<circle cx="661.0" cy="170.0" r="1.2" fill="#6a4010"/>
<circle cx="650.0" cy="131.3" r="1.1" fill="#7a4a14"/>
<circle cx="600.2" cy="155.1" r="0.9" fill="#4a2e10"/>
<circle cx="632.8" cy="197.9" r="0.9" fill="#4a2e10"/>
<circle cx="644.9" cy="194.3" r="0.8" fill="#7a4a14"/>
<circle cx="598.9" cy="165.7" r="0.9" fill="#8a5a1a"/>
<circle cx="661.0" cy="160.4" r="0.4" fill="#7a4a14"/>
<circle cx="588.6" cy="160.5" r="1.1" fill="#6a4010"/>
<circle cx="586.4" cy="162.2" r="1.2" fill="#6a4010"/>
<circle cx="631.0" cy="143.9" r="0.4" fill="#4a2e10"/>
<circle cx="682.2" cy="155.6" r="1.1" fill="#4a2e10"/>
<circle cx="653.5" cy="149.1" r="1.0" fill="#7a4a14"/>
<circle cx="620.0" cy="197.2" r="0.9" fill="#8a5a1a"/>
<circle cx="627.4" cy="174.6" r="0.6" fill="#8a5a1a"/>
<circle cx="607.6" cy="201.1" r="1.1" fill="#7a4a14"/>
<circle cx="631.3" cy="172.7" r="1.1" fill="#7a4a14"/>
<circle cx="678.3" cy="153.8" r="0.8" fill="#8a5a1a"/>
<circle cx="599.9" cy="202.0" r="0.6" fill="#6a4010"/>
<circle cx="648.0" cy="130.2" r="0.8" fill="#6a4010"/>
<circle cx="634.2" cy="200.1" r="0.8" fill="#8a5a1a"/>
<circle cx="653.2" cy="180.4" r="0.7" fill="#8a5a1a"/>
<circle cx="642.0" cy="178.0" r="0.8" fill="#6a4010"/>
<circle cx="616.3" cy="178.6" r="0.4" fill="#7a4a14"/>
<circle cx="682.0" cy="151.3" r="0.8" fill="#6a4010"/>
<circle cx="612.3" cy="133.8" r="0.9" fill="#8a5a1a"/>
<circle cx="664.6" cy="149.4" r="1.1" fill="#6a4010"/>
<circle cx="627.0" cy="172.2" r="1.2" fill="#8a5a1a"/>
<circle cx="670.8" cy="141.5" r="0.7" fill="#4a2e10"/>
<circle cx="677.6" cy="179.1" r="1.0" fill="#8a5a1a"/>
<circle cx="665.2" cy="204.4" r="1.1" fill="#7a4a14"/>
<circle cx="664.5" cy="184.1" r="1.0" fill="#7a4a14"/>
<circle cx="595.9" cy="166.2" r="1.0" fill="#6a4010"/>
<circle cx="676.9" cy="131.7" r="0.8" fill="#4a2e10"/>
<circle cx="631.6" cy="179.0" r="0.9" fill="#8a5a1a"/>
<circle cx="678.2" cy="179.0" r="0.5" fill="#7a4a14"/>
<circle cx="595.0" cy="204.6" r="1.1" fill="#4a2e10"/>
<circle cx="609.7" cy="176.4" r="1.0" fill="#4a2e10"/>
<circle cx="683.5" cy="177.3" r="0.5" fill="#6a4010"/>
<circle cx="628.1" cy="161.0" r="0.7" fill="#6a4010"/>
<circle cx="641.5" cy="201.7" r="0.9" fill="#8a5a1a"/>
<circle cx="606.7" cy="184.0" r="0.4" fill="#7a4a14"/>
<circle cx="634.5" cy="204.4" r="0.6" fill="#6a4010"/>
<circle cx="654.1" cy="169.2" r="0.7" fill="#4a2e10"/>
<circle cx="653.8" cy="132.0" r="0.6" fill="#6a4010"/>
<circle cx="617.4" cy="200.5" r="1.1" fill="#4a2e10"/>
<circle cx="637.8" cy="174.1" r="0.6" fill="#8a5a1a"/>
<circle cx="662.2" cy="155.3" r="0.6" fill="#8a5a1a"/>
<circle cx="590.7" cy="137.3" r="1.0" fill="#6a4010"/>
<circle cx="631.8" cy="186.6" r="0.6" fill="#7a4a14"/>
<circle cx="678.2" cy="157.7" r="0.7" fill="#8a5a1a"/>
<circle cx="591.1" cy="134.0" r="0.7" fill="#8a5a1a"/>
<circle cx="605.8" cy="199.9" r="1.0" fill="#6a4010"/>
<circle cx="596.3" cy="162.9" r="0.9" fill="#4a2e10"/>
<circle cx="643.2" cy="161.9" r="0.4" fill="#6a4010"/>
<circle cx="603.1" cy="188.2" r="0.4" fill="#7a4a14"/>
<circle cx="602.5" cy="203.6" r="1.0" fill="#4a2e10"/>
<circle cx="611.1" cy="190.6" r="0.4" fill="#6a4010"/>
<circle cx="630.1" cy="162.9" r="0.5" fill="#8a5a1a"/>
<circle cx="603.6" cy="149.2" r="1.1" fill="#6a4010"/>
<circle cx="584.2" cy="165.3" r="0.9" fill="#7a4a14"/>
<circle cx="684.5" cy="167.9" r="1.0" fill="#7a4a14"/>
<circle cx="624.7" cy="179.4" r="0.9" fill="#8a5a1a"/>
<circle cx="588.7" cy="184.0" r="0.5" fill="#6a4010"/>
<circle cx="641.6" cy="160.6" r="0.7" fill="#8a5a1a"/>
<circle cx="657.8" cy="177.0" r="0.6" fill="#7a4a14"/>
<circle cx="670.1" cy="167.0" r="0.9" fill="#4a2e10"/>
<circle cx="677.5" cy="178.5" r="0.7" fill="#6a4010"/>
<circle cx="606.3" cy="195.8" r="0.8" fill="#8a5a1a"/>
<circle cx="658.7" cy="196.1" r="0.6" fill="#6a4010"/>
<circle cx="663.9" cy="183.8" r="0.8" fill="#4a2e10"/>
<circle cx="650.9" cy="145.6" r="0.7" fill="#7a4a14"/>
<circle cx="647.0" cy="161.2" r="0.6" fill="#6a4010"/>
<circle cx="630.0" cy="166.0" r="1.1" fill="#8a5a1a"/>
<circle cx="650.6" cy="181.5" r="0.8" fill="#8a5a1a"/>
<circle cx="673.5" cy="135.7" r="0.6" fill="#7a4a14"/>
<circle cx="657.1" cy="202.2" r="0.9" fill="#8a5a1a"/>
<circle cx="627.9" cy="179.7" r="0.6" fill="#6a4010"/>
<circle cx="638.5" cy="204.5" r="0.7" fill="#8a5a1a"/>
<circle cx="585.7" cy="161.6" r="1.0" fill="#4a2e10"/>
<circle cx="593.1" cy="158.9" r="1.1" fill="#4a2e10"/>
<circle cx="684.4" cy="144.9" r="1.1" fill="#6a4010"/>
<circle cx="634.3" cy="133.9" r="0.6" fill="#8a5a1a"/>
<circle cx="590.7" cy="204.3" r="1.0" fill="#4a2e10"/>
<circle cx="659.4" cy="174.0" r="0.6" fill="#8a5a1a"/>
<circle cx="639.0" cy="205.0" r="0.5" fill="#4a2e10"/>
<circle cx="665.8" cy="168.7" r="0.4" fill="#4a2e10"/>
<circle cx="637.4" cy="167.6" r="0.5" fill="#8a5a1a"/>
<circle cx="651.0" cy="152.0" r="1.0" fill="#8a5a1a"/>
<circle cx="652.3" cy="137.5" r="0.4" fill="#8a5a1a"/>
<circle cx="637.5" cy="205.3" r="0.9" fill="#4a2e10"/>
<circle cx="619.6" cy="187.7" r="0.5" fill="#4a2e10"/>
<circle cx="639.1" cy="142.8" r="0.7" fill="#7a4a14"/>
<circle cx="622.4" cy="150.8" r="0.7" fill="#6a4010"/>
<circle cx="638.5" cy="160.2" r="0.7" fill="#4a2e10"/>
<circle cx="647.3" cy="193.4" r="0.9" fill="#7a4a14"/>
<circle cx="602.0" cy="138.9" r="0.5" fill="#6a4010"/>
<circle cx="658.6" cy="150.1" r="0.8" fill="#6a4010"/>
<circle cx="651.2" cy="152.1" r="0.7" fill="#4a2e10"/>
<circle cx="654.6" cy="155.6" r="1.1" fill="#7a4a14"/>
<circle cx="669.4" cy="183.3" r="0.4" fill="#4a2e10"/>
<circle cx="645.5" cy="205.0" r="0.6" fill="#7a4a14"/>
<circle cx="644.8" cy="154.3" r="0.9" fill="#4a2e10"/>
<circle cx="663.6" cy="197.4" r="0.5" fill="#7a4a14"/>
<circle cx="676.4" cy="181.5" r="0.5" fill="#4a2e10"/>
<circle cx="645.1" cy="156.5" r="1.0" fill="#4a2e10"/>
<circle cx="672.1" cy="147.2" r="0.7" fill="#7a4a14"/>
<circle cx="633.8" cy="180.8" r="1.1" fill="#6a4010"/>
<circle cx="661.4" cy="181.7" r="1.2" fill="#6a4010"/>
<circle cx="593.6" cy="133.4" r="0.7" fill="#8a5a1a"/>
<circle cx="644.6" cy="195.5" r="0.5" fill="#6a4010"/>
<circle cx="626.2" cy="199.1" r="0.9" fill="#4a2e10"/>
<circle cx="588.4" cy="141.6" r="0.9" fill="#6a4010"/>
<circle cx="631.2" cy="152.0" r="0.8" fill="#4a2e10"/>
<circle cx="609.2" cy="130.3" r="1.1" fill="#4a2e10"/>
<circle cx="610.4" cy="131.2" r="0.6" fill="#7a4a14"/>
<circle cx="611.1" cy="138.6" r="1.1" fill="#8a5a1a"/>
<circle cx="652.4" cy="144.4" r="0.8" fill="#8a5a1a"/>
<circle cx="653.9" cy="168.0" r="0.7" fill="#8a5a1a"/>
<circle cx="620.6" cy="150.2" r="0.8" fill="#7a4a14"/>
<circle cx="612.8" cy="152.5" r="0.7" fill="#6a4010"/>
<circle cx="646.7" cy="151.7" r="0.6" fill="#8a5a1a"/>
<circle cx="653.9" cy="186.6" r="0.8" fill="#8a5a1a"/>
<circle cx="634.6" cy="147.2" r="0.9" fill="#7a4a14"/>
<circle cx="591.5" cy="148.8" r="1.2" fill="#8a5a1a"/>
<circle cx="636.0" cy="153.5" r="1.1" fill="#4a2e10"/>
<circle cx="684.0" cy="135.7" r="1.2" fill="#6a4010"/>
<circle cx="671.5" cy="190.7" r="1.0" fill="#6a4010"/>
<circle cx="629.2" cy="205.2" r="1.1" fill="#6a4010"/>
<circle cx="642.8" cy="143.2" r="0.8" fill="#7a4a14"/>
<circle cx="652.1" cy="146.5" r="0.8" fill="#4a2e10"/>
<circle cx="684.0" cy="200.0" r="0.9" fill="#6a4010"/>
<circle cx="606.2" cy="179.9" r="0.6" fill="#6a4010"/>
<circle cx="608.5" cy="153.6" r="0.5" fill="#6a4010"/>
<circle cx="682.6" cy="144.0" r="0.6" fill="#7a4a14"/>
<circle cx="660.6" cy="134.3" r="0.4" fill="#7a4a14"/>
<circle cx="663.9" cy="178.2" r="1.0" fill="#8a5a1a"/>
<circle cx="649.1" cy="204.8" r="1.0" fill="#7a4a14"/>
<circle cx="616.3" cy="138.8" r="0.4" fill="#6a4010"/>
<circle cx="671.5" cy="153.1" r="1.1" fill="#4a2e10"/>
<circle cx="623.2" cy="179.2" r="0.7" fill="#6a4010"/>
<circle cx="608.2" cy="151.2" r="1.1" fill="#6a4010"/>
<circle cx="590.7" cy="144.2" r="0.6" fill="#4a2e10"/>
<circle cx="678.5" cy="180.6" r="0.5" fill="#8a5a1a"/>
<circle cx="678.4" cy="154.3" r="0.4" fill="#8a5a1a"/>
<circle cx="633.7" cy="159.2" r="0.8" fill="#6a4010"/>
<circle cx="595.8" cy="157.3" r="0.9" fill="#4a2e10"/>
<circle cx="623.3" cy="201.7" r="0.9" fill="#7a4a14"/>
<circle cx="604.6" cy="130.9" r="0.9" fill="#7a4a14"/>
<circle cx="629.3" cy="166.8" r="0.4" fill="#6a4010"/>
<circle cx="597.1" cy="159.1" r="0.6" fill="#8a5a1a"/>
<circle cx="646.6" cy="186.7" r="1.0" fill="#6a4010"/>
<circle cx="619.4" cy="135.1" r="0.6" fill="#6a4010"/>
<circle cx="674.5" cy="148.4" r="0.9" fill="#7a4a14"/>
<circle cx="592.7" cy="133.5" r="1.1" fill="#6a4010"/>
<circle cx="643.9" cy="147.5" r="0.5" fill="#8a5a1a"/>
<circle cx="595.3" cy="145.2" r="0.9" fill="#7a4a14"/>
<circle cx="591.1" cy="192.8" r="1.0" fill="#8a5a1a"/>
<circle cx="599.1" cy="173.2" r="0.8" fill="#8a5a1a"/>
<circle cx="584.6" cy="153.4" r="1.2" fill="#6a4010"/>
<circle cx="603.5" cy="155.5" r="0.4" fill="#8a5a1a"/>
<circle cx="613.3" cy="151.7" r="0.9" fill="#7a4a14"/>
<circle cx="622.7" cy="183.8" r="0.7" fill="#6a4010"/>
<circle cx="675.7" cy="133.1" r="0.6" fill="#4a2e10"/>
<circle cx="608.7" cy="205.8" r="0.5" fill="#7a4a14"/>
<circle cx="647.4" cy="195.8" r="0.7" fill="#4a2e10"/>
<circle cx="595.4" cy="204.5" r="1.0" fill="#4a2e10"/>
<circle cx="643.7" cy="181.4" r="0.9" fill="#4a2e10"/>
<circle cx="684.9" cy="193.8" r="0.9" fill="#7a4a14"/>
<circle cx="610.2" cy="167.7" r="0.5" fill="#6a4010"/>
<circle cx="627.9" cy="174.0" r="0.6" fill="#8a5a1a"/>
<circle cx="603.3" cy="164.0" r="1.1" fill="#6a4010"/>
<circle cx="610.5" cy="157.8" r="1.0" fill="#7a4a14"/>
<circle cx="638.8" cy="150.0" r="0.7" fill="#4a2e10"/>
<circle cx="658.1" cy="138.8" r="1.0" fill="#4a2e10"/>
<circle cx="648.8" cy="165.7" r="0.8" fill="#6a4010"/>
<circle cx="590.6" cy="184.4" r="0.6" fill="#8a5a1a"/>
<circle cx="602.0" cy="165.2" r="0.8" fill="#8a5a1a"/>
<circle cx="611.1" cy="172.7" r="0.6" fill="#8a5a1a"/>
<circle cx="638.4" cy="177.0" r="1.1" fill="#7a4a14"/>
<circle cx="596.7" cy="175.5" r="0.9" fill="#8a5a1a"/>
<circle cx="625.8" cy="143.9" r="1.0" fill="#4a2e10"/>
<circle cx="681.8" cy="134.4" r="0.5" fill="#6a4010"/>
<circle cx="598.0" cy="181.4" r="0.6" fill="#4a2e10"/>
<circle cx="639.3" cy="195.1" r="0.7" fill="#6a4010"/>
<circle cx="589.8" cy="179.3" r="0.8" fill="#6a4010"/>
<circle cx="587.0" cy="142.3" r="0.5" fill="#4a2e10"/>
<circle cx="596.9" cy="175.9" r="1.1" fill="#4a2e10"/>
<circle cx="676.8" cy="158.3" r="0.9" fill="#4a2e10"/>
<circle cx="673.3" cy="172.1" r="0.9" fill="#6a4010"/>
<circle cx="652.4" cy="204.1" r="0.6" fill="#4a2e10"/>
<circle cx="647.9" cy="165.6" r="0.4" fill="#8a5a1a"/>
<circle cx="670.1" cy="166.6" r="1.1" fill="#7a4a14"/>
<circle cx="635.6" cy="134.5" r="0.5" fill="#4a2e10"/>
<circle cx="652.9" cy="205.3" r="1.0" fill="#4a2e10"/>
<circle cx="591.5" cy="176.2" r="0.7" fill="#4a2e10"/>
<circle cx="623.8" cy="200.0" r="0.8" fill="#8a5a1a"/>
<circle cx="652.9" cy="195.0" r="0.5" fill="#6a4010"/>
<circle cx="588.7" cy="160.4" r="0.5" fill="#7a4a14"/>
<circle cx="628.9" cy="173.2" r="0.5" fill="#7a4a14"/>
<circle cx="661.1" cy="163.8" r="0.6" fill="#4a2e10"/>
<circle cx="622.8" cy="199.3" r="1.0" fill="#6a4010"/>
<circle cx="673.5" cy="166.7" r="0.5" fill="#7a4a14"/>
<circle cx="595.5" cy="196.7" r="1.0" fill="#7a4a14"/>
<circle cx="605.6" cy="163.9" r="0.9" fill="#6a4010"/>
<circle cx="612.4" cy="133.7" r="1.0" fill="#8a5a1a"/>
<circle cx="662.8" cy="138.3" r="0.4" fill="#4a2e10"/>
<circle cx="631.5" cy="198.4" r="1.0" fill="#7a4a14"/>
<circle cx="667.7" cy="199.3" r="0.5" fill="#8a5a1a"/>
<circle cx="614.4" cy="199.7" r="0.6" fill="#6a4010"/>
<circle cx="626.3" cy="142.0" r="0.8" fill="#7a4a14"/>
<circle cx="616.4" cy="185.0" r="1.1" fill="#6a4010"/>
<circle cx="666.5" cy="148.1" r="1.1" fill="#4a2e10"/>
<circle cx="609.1" cy="171.9" r="0.7" fill="#7a4a14"/>
<circle cx="644.1" cy="150.0" r="0.6" fill="#8a5a1a"/>
<circle cx="671.7" cy="201.2" r="0.6" fill="#6a4010"/>
<circle cx="595.9" cy="137.3" r="0.5" fill="#8a5a1a"/>
<circle cx="634.1" cy="179.0" r="0.7" fill="#4a2e10"/>
<circle cx="591.8" cy="147.1" r="0.9" fill="#7a4a14"/>
<circle cx="597.0" cy="183.4" r="0.9" fill="#8a5a1a"/>
<circle cx="625.1" cy="179.3" r="0.7" fill="#8a5a1a"/>
<circle cx="663.0" cy="139.4" r="0.6" fill="#8a5a1a"/>
<circle cx="619.6" cy="194.4" r="1.0" fill="#7a4a14"/>
<circle cx="669.2" cy="159.3" r="0.9" fill="#4a2e10"/>
<circle cx="622.8" cy="173.2" r="1.2" fill="#7a4a14"/>
<circle cx="677.1" cy="153.0" r="0.7" fill="#6a4010"/>
<circle cx="654.7" cy="204.5" r="0.8" fill="#6a4010"/>
<circle cx="638.0" cy="189.1" r="0.8" fill="#6a4010"/>
<circle cx="672.6" cy="156.8" r="0.8" fill="#7a4a14"/>
<circle cx="664.9" cy="200.9" r="1.0" fill="#4a2e10"/>
<circle cx="657.6" cy="132.3" r="0.9" fill="#4a2e10"/>
<circle cx="634.1" cy="130.9" r="0.7" fill="#6a4010"/>
<circle cx="664.0" cy="175.8" r="0.4" fill="#8a5a1a"/>
<circle cx="631.2" cy="167.1" r="0.7" fill="#8a5a1a"/>
<circle cx="628.3" cy="149.6" r="0.5" fill="#6a4010"/>
<circle cx="596.7" cy="191.4" r="0.5" fill="#6a4010"/>
<circle cx="634.9" cy="143.6" r="0.9" fill="#4a2e10"/>
<circle cx="684.2" cy="173.9" r="1.1" fill="#6a4010"/>
<circle cx="660.6" cy="179.1" r="0.8" fill="#4a2e10"/>
<circle cx="651.6" cy="142.0" r="0.8" fill="#8a5a1a"/>
<circle cx="665.4" cy="186.6" r="1.1" fill="#8a5a1a"/>
<circle cx="593.3" cy="141.0" r="0.4" fill="#7a4a14"/>
<circle cx="681.2" cy="189.1" r="0.5" fill="#7a4a14"/>
<circle cx="631.0" cy="172.9" r="0.6" fill="#4a2e10"/>
<circle cx="594.5" cy="155.4" r="0.7" fill="#8a5a1a"/>
<circle cx="639.3" cy="137.1" r="1.1" fill="#6a4010"/>
<circle cx="619.1" cy="179.3" r="0.9" fill="#7a4a14"/>
<circle cx="625.7" cy="169.6" r="0.6" fill="#8a5a1a"/>
<circle cx="588.2" cy="134.5" r="0.8" fill="#7a4a14"/>
<circle cx="644.2" cy="173.1" r="0.8" fill="#8a5a1a"/>
<circle cx="584.3" cy="205.0" r="1.1" fill="#8a5a1a"/>
<circle cx="647.3" cy="166.2" r="0.9" fill="#8a5a1a"/>
<circle cx="602.0" cy="187.5" r="1.1" fill="#7a4a14"/>
<circle cx="649.2" cy="157.8" r="0.7" fill="#6a4010"/>
<circle cx="675.9" cy="166.0" r="0.5" fill="#4a2e10"/>
<circle cx="593.2" cy="151.6" r="1.1" fill="#4a2e10"/>
<circle cx="628.1" cy="164.7" r="0.8" fill="#4a2e10"/>
<circle cx="664.2" cy="168.4" r="1.2" fill="#4a2e10"/>
<circle cx="682.1" cy="183.0" r="0.5" fill="#8a5a1a"/>
<circle cx="640.8" cy="200.6" r="0.8" fill="#8a5a1a"/>
<circle cx="651.5" cy="147.1" r="0.7" fill="#6a4010"/>
<circle cx="616.0" cy="158.0" r="0.6" fill="#7a4a14"/>
<circle cx="589.9" cy="182.2" r="0.9" fill="#4a2e10"/>
<circle cx="601.8" cy="138.0" r="0.4" fill="#7a4a14"/>
<circle cx="602.8" cy="192.1" r="1.2" fill="#7a4a14"/>
<ellipse cx="592" cy="140" rx="10" ry="9" fill="#8a5420" opacity="0.35"/>
<ellipse cx="625" cy="142" rx="12" ry="8" fill="#8a5420" opacity="0.3"/>
<ellipse cx="600" cy="198" rx="12" ry="7" fill="#8a5420" opacity="0.25"/>
<ellipse cx="660" cy="136" rx="12" ry="6" fill="#8a5420" opacity="0.3"/>
<ellipse cx="610" cy="186" rx="6" ry="8" fill="#8a5420" opacity="0.3"/>
<ellipse cx="684" cy="150" rx="6" ry="10" fill="#8a5420" opacity="0.3"/>
<circle cx="641.3" cy="142.8" r="9.2" fill="url(#bead)"/>
<circle cx="665.4" cy="153.8" r="9" fill="url(#bead)"/>
<circle cx="679.3" cy="168.4" r="9" fill="url(#bead)"/>
<circle cx="649.4" cy="162.3" r="9" fill="url(#bead)"/>
<circle cx="628.4" cy="165" r="8.8" fill="url(#bead)"/>
<circle cx="602" cy="167.3" r="9" fill="url(#bead)"/>
<circle cx="588.5" cy="182.6" r="8.8" fill="url(#bead)"/>
<circle cx="619" cy="181.9" r="9" fill="url(#bead)"/>
<circle cx="639.3" cy="179.2" r="9.2" fill="url(#bead)"/>
<circle cx="661.3" cy="176.5" r="9" fill="url(#bead)"/>
<circle cx="677.6" cy="187.7" r="9" fill="url(#bead)"/>
<circle cx="652.8" cy="194.4" r="9" fill="url(#bead)"/>
<circle cx="633.5" cy="196.1" r="9" fill="url(#bead)"/>
<circle cx="615.6" cy="153.8" r="8.5" fill="url(#bead)"/>
<ellipse cx="645.8" cy="145.3" rx="1.8" ry="4.2" fill="#f0e2b8" opacity="0.85" transform="rotate(25 645.8 145.3)"/>
<circle cx="640.3" cy="149.2" r="3.6" fill="url(#glow)"/>
<circle cx="638.3" cy="137.7" r="2.6" fill="url(#glow)"/>
<ellipse cx="669.9" cy="156.3" rx="1.8" ry="4.2" fill="#f0e2b8" opacity="0.85" transform="rotate(25 669.9 156.3)"/>
<circle cx="664.4" cy="160.1" r="3.6" fill="url(#glow)"/>
<circle cx="662.4" cy="148.9" r="2.6" fill="url(#glow)"/>
<ellipse cx="683.8" cy="170.9" rx="1.8" ry="4.2" fill="#f0e2b8" opacity="0.85" transform="rotate(25 683.8 170.9)"/>
<circle cx="678.3" cy="174.7" r="3.6" fill="url(#glow)"/>
<circle cx="676.3" cy="163.5" r="2.6" fill="url(#glow)"/>
<ellipse cx="653.9" cy="164.8" rx="1.8" ry="4.2" fill="#f0e2b8" opacity="0.85" transform="rotate(25 653.9 164.8)"/>
<circle cx="648.4" cy="168.6" r="3.6" fill="url(#glow)"/>
<circle cx="646.4" cy="157.4" r="2.6" fill="url(#glow)"/>
<ellipse cx="632.9" cy="167.5" rx="1.8" ry="4.2" fill="#f0e2b8" opacity="0.85" transform="rotate(25 632.9 167.5)"/>
<circle cx="627.4" cy="171.2" r="3.6" fill="url(#glow)"/>
<circle cx="625.4" cy="160.2" r="2.6" fill="url(#glow)"/>
<ellipse cx="606.5" cy="169.8" rx="1.8" ry="4.2" fill="#f0e2b8" opacity="0.85" transform="rotate(25 606.5 169.8)"/>
<circle cx="601" cy="173.6" r="3.6" fill="url(#glow)"/>
<circle cx="599" cy="162.4" r="2.6" fill="url(#glow)"/>
<ellipse cx="593.0" cy="185.1" rx="1.8" ry="4.2" fill="#f0e2b8" opacity="0.85" transform="rotate(25 593.0 185.1)"/>
<circle cx="587.5" cy="188.8" r="3.6" fill="url(#glow)"/>
<circle cx="585.5" cy="177.8" r="2.6" fill="url(#glow)"/>
<ellipse cx="623.5" cy="184.4" rx="1.8" ry="4.2" fill="#f0e2b8" opacity="0.85" transform="rotate(25 623.5 184.4)"/>
<circle cx="618" cy="188.2" r="3.6" fill="url(#glow)"/>
<circle cx="616" cy="177.0" r="2.6" fill="url(#glow)"/>
<ellipse cx="643.8" cy="181.7" rx="1.8" ry="4.2" fill="#f0e2b8" opacity="0.85" transform="rotate(25 643.8 181.7)"/>
<circle cx="638.3" cy="185.6" r="3.6" fill="url(#glow)"/>
<circle cx="636.3" cy="174.1" r="2.6" fill="url(#glow)"/>
<ellipse cx="665.8" cy="179.0" rx="1.8" ry="4.2" fill="#f0e2b8" opacity="0.85" transform="rotate(25 665.8 179.0)"/>
<circle cx="660.3" cy="182.8" r="3.6" fill="url(#glow)"/>
<circle cx="658.3" cy="171.6" r="2.6" fill="url(#glow)"/>
<ellipse cx="682.1" cy="190.2" rx="1.8" ry="4.2" fill="#f0e2b8" opacity="0.85" transform="rotate(25 682.1 190.2)"/>
<circle cx="676.6" cy="194.0" r="3.6" fill="url(#glow)"/>
<circle cx="674.6" cy="182.8" r="2.6" fill="url(#glow)"/>
<ellipse cx="657.3" cy="196.9" rx="1.8" ry="4.2" fill="#f0e2b8" opacity="0.85" transform="rotate(25 657.3 196.9)"/>
<circle cx="651.8" cy="200.7" r="3.6" fill="url(#glow)"/>
<circle cx="649.8" cy="189.5" r="2.6" fill="url(#glow)"/>
<ellipse cx="638.0" cy="198.6" rx="1.8" ry="4.2" fill="#f0e2b8" opacity="0.85" transform="rotate(25 638.0 198.6)"/>
<circle cx="632.5" cy="202.4" r="3.6" fill="url(#glow)"/>
<circle cx="630.5" cy="191.2" r="2.6" fill="url(#glow)"/>
<ellipse cx="620.1" cy="156.3" rx="1.8" ry="4.2" fill="#f0e2b8" opacity="0.85" transform="rotate(25 620.1 156.3)"/>
<circle cx="614.6" cy="159.8" r="3.6" fill="url(#glow)"/>
<circle cx="612.6" cy="149.1" r="2.6" fill="url(#glow)"/>
<circle cx="644.3" cy="155.5" r="4.5" fill="url(#glow)"/><circle cx="610" cy="175" r="3" fill="url(#glow)"/><circle cx="668" cy="165" r="3" fill="url(#glow)"/><circle cx="626" cy="189" r="3" fill="url(#glow)"/>
</g></g>
<rect x="586.4" y="96.8" width="31" height="22" fill="#fff" stroke="#222" stroke-width="1"/><text x="591.9" y="113.6" font-size="18" font-family="Liberation Serif" fill="#111">S5</text>
<rect x="586.1" y="134.2" width="31.1" height="21.6" fill="#fff" stroke="#222" stroke-width="1"/><text x="592" y="150.4" font-size="18" font-family="Liberation Serif" fill="#111">S1</text>
<path d="M474,153.5H554L589.8,111.9 M474,193.7H554L589.8,147.9" stroke="#7a7a7a" stroke-width="1.5" fill="none"/>
</svg></body></html>
